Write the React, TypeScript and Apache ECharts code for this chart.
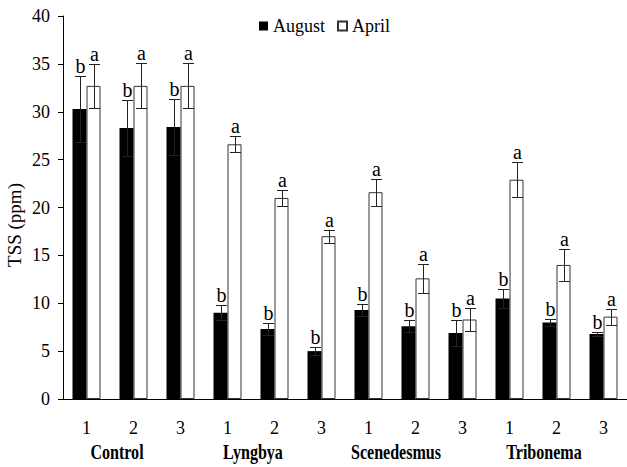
import React, { useEffect, useRef } from 'react';
import * as echarts from 'echarts';

const categories = ['1', '2', '3', '1', '2', '3', '1', '2', '3', '1', '2', '3'];
const groupNames = ['Control', 'Lyngbya', 'Scenedesmus', 'Tribonema'];
const august = [30.3, 28.3, 28.4, 9.0, 7.3, 5.0, 9.3, 7.6, 6.9, 10.5, 8.0, 6.8];
const augustErr = [3.45, 2.95, 2.95, 0.8, 0.6, 0.4, 0.6, 0.65, 1.4, 1.0, 0.4, 0.2];
const augustLetters = ['b', 'b', 'b', 'b', 'b', 'b', 'b', 'b', 'b', 'b', 'b', 'b'];
const april = [32.7, 32.7, 32.7, 26.6, 21.0, 17.0, 21.6, 12.6, 8.3, 22.9, 14.0, 8.6];
const aprilErr = [2.3, 2.35, 2.35, 0.85, 0.85, 0.7, 1.4, 1.5, 1.25, 1.8, 1.7, 0.85];
const aprilLetters = ['a', 'a', 'a', 'a', 'a', 'a', 'a', 'a', 'a', 'a', 'a', 'a'];

const FONT = '"Liberation Serif", "Times New Roman", serif';
const BAR_W = 14;

function errSeries(name: string, values: number[], errs: number[], side: number) {
  return {
    type: 'custom',
    name,
    z: 5,
    silent: true,
    itemStyle: { color: '#000' },
    data: values.map((v, i) => [i, v, errs[i]]),
    renderItem: (params: any, api: any) => {
      const i = api.value(0);
      const v = api.value(1);
      const e = api.value(2);
      const top = api.coord([i, v + e]);
      const bot = api.coord([i, v - e]);
      const x = Math.round(top[0] + (side * BAR_W) / 2) + 0.5;
      const yt = Math.round(top[1]) + 0.5;
      const yb = Math.round(bot[1]) + 0.5;
      const cap = 5.5;
      const ls = { stroke: '#222', lineWidth: 1 };
      return {
        type: 'group',
        children: [
          { type: 'line', shape: { x1: x, y1: yt, x2: x, y2: yb }, style: ls },
          { type: 'line', shape: { x1: x - cap, y1: yt, x2: x + cap, y2: yt }, style: ls },
          { type: 'line', shape: { x1: x - cap, y1: yb, x2: x + cap, y2: yb }, style: ls },
        ],
      };
    },
  };
}

export default function App() {
  const ref = useRef<HTMLDivElement>(null);
  useEffect(() => {
    const chart = echarts.init(ref.current!, null, { renderer: 'svg' });
    const groupX = [117, 253, 396, 544];
    chart.setOption({
      animation: false,
      backgroundColor: '#fff',
      grid: { left: 63, top: 16, width: 567, height: 383 },
      legend: {
        data: ['August', 'April'],
        left: 254,
        top: 12,
        icon: 'rect',
        itemWidth: 9,
        itemHeight: 9,
        itemGap: 12,
        textStyle: { fontFamily: FONT, fontSize: 18, color: '#000' },
      },
      xAxis: {
        type: 'category',
        data: categories,
        axisLine: { lineStyle: { color: '#000', width: 1 } },
        axisTick: { length: 6, lineStyle: { color: '#000' } },
        axisLabel: { margin: 20, fontFamily: FONT, fontSize: 18, color: '#000' },
      },
      yAxis: {
        type: 'value',
        min: 0,
        max: 40,
        interval: 5,
        axisLine: { show: true, lineStyle: { color: '#000', width: 1 } },
        axisTick: { show: true, length: 5, lineStyle: { color: '#000' } },
        axisLabel: { margin: 13, fontFamily: FONT, fontSize: 18, color: '#000' },
        splitLine: { show: false },
      },
      series: [
        {
          name: 'August',
          type: 'bar',
          data: august,
          barWidth: BAR_W,
          barGap: '0%',
          itemStyle: { color: '#000' },
        },
        {
          name: 'April',
          type: 'bar',
          data: april,
          barWidth: BAR_W,
          barGap: '0%',
          itemStyle: { color: '#fff', borderColor: '#333', borderWidth: 1 },
        },
        errSeries('AugustErr', august, augustErr, -1),
        errSeries('AprilErr', april, aprilErr, 1),
      ],
    });

    const letterEls: any[] = [];
    const addLetters = (values: number[], errs: number[], letters: string[], side: number) => {
      values.forEach((v, i) => {
        const p = chart.convertToPixel({ xAxisIndex: 0, yAxisIndex: 0 }, [i, v + errs[i]]) as number[];
        letterEls.push({
          type: 'text',
          x: Math.round(p[0] + (side * BAR_W) / 2) + 0.5,
          y: Math.round(p[1]) - 0.5,
          z: 10,
          style: {
            text: letters[i],
            fill: '#000',
            fontFamily: FONT,
            fontSize: 20,
            align: 'center',
            verticalAlign: 'bottom',
          },
        });
      });
    };
    addLetters(august, augustErr, augustLetters, -1);
    addLetters(april, aprilErr, aprilLetters, 1);

    chart.setOption({
      graphic: [
        {
          type: 'text',
          x: 14,
          y: 225,
          rotation: Math.PI / 2,
          style: {
            text: 'TSS (ppm)',
            fill: '#000',
            fontFamily: FONT,
            fontSize: 19,
            align: 'center',
            verticalAlign: 'middle',
          },
        },
        ...groupNames.map((g, k) => ({
          type: 'text',
          x: groupX[k],
          y: 452,
          scaleX: 0.73,
          style: {
            text: g,
            fill: '#000',
            fontFamily: FONT,
            fontWeight: 'bold',
            fontSize: 22,
            align: 'center',
            verticalAlign: 'middle',
          },
        })),
        ...letterEls,
      ],
    });
    return () => chart.dispose();
  }, []);
  return <div ref={ref} style={{ position: 'fixed', left: 0, top: 0, width: 627, height: 467 }} />;
}
